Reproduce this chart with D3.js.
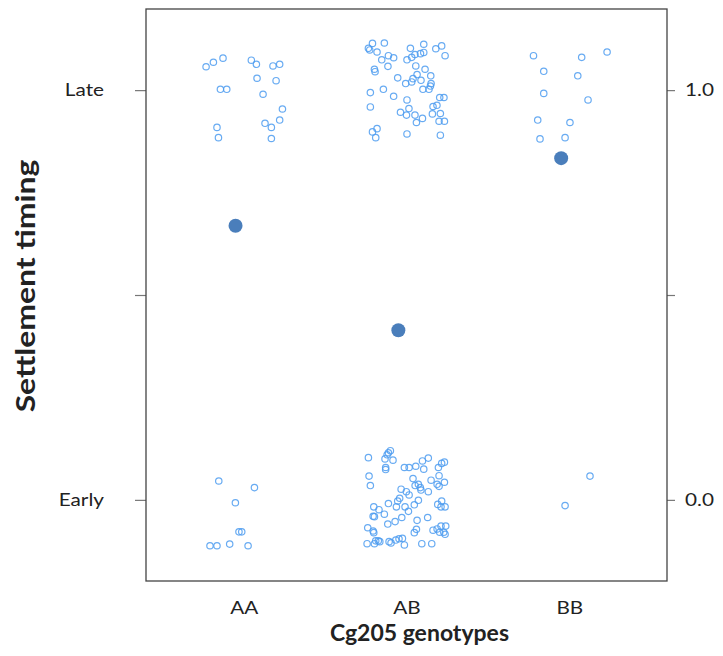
<!DOCTYPE html>
<html>
<head>
<meta charset="utf-8">
<script src="https://cdn.jsdelivr.net/npm/d3@7"></script>
<style>
  body { margin: 0; background: #fff; }
  svg { display: block; }
  text { font-family: Lato, "Open Sans", sans-serif; fill: #222; }
</style>
</head>
<body>
<div id="chart"></div>
<script>
// genotypes and group means (proportion of late settlers)
const genotypes = ['AA', 'AB', 'BB'];
const means = [0.669, 0.414, 0.834];

// jittered individual observations: [position on x, jittered value]
const aaPoints = [
  [0.769, 1.057], [0.814, 1.068], [0.873, 1.078], [1.047, 1.073], [1.078, 1.063],
  [1.180, 1.059], [1.221, 1.063], [0.857, 1.002], [0.896, 1.002], [1.082, 1.029],
  [1.199, 1.023], [1.119, 0.990], [1.238, 0.954], [1.221, 0.927], [1.131, 0.919],
  [1.170, 0.909], [0.836, 0.909], [0.845, 0.884], [1.170, 0.882],
  [0.847, 0.046], [1.066, 0.030], [0.949, -0.007], [0.971, -0.078], [0.988, -0.078],
  [0.793, -0.112], [0.836, -0.112], [0.914, -0.108], [1.027, -0.112]
];

const abPoints = [
  [1.791, 1.114], [1.864, 1.115], [2.106, 1.112], [1.766, 1.102], [1.774, 1.098],
  [1.819, 1.093], [2.024, 1.102], [2.180, 1.101], [2.216, 1.108], [2.106, 1.092],
  [2.086, 1.089], [2.052, 1.087], [2.032, 1.080], [2.003, 1.074], [1.889, 1.084],
  [1.848, 1.074], [1.921, 1.079], [2.237, 1.084], [1.886, 1.058], [2.057, 1.059],
  [2.114, 1.051], [1.803, 1.051], [1.807, 1.045], [1.946, 1.030], [2.065, 1.038],
  [2.149, 1.035], [2.040, 1.028], [2.032, 1.020], [1.995, 1.016], [2.089, 1.024],
  [2.151, 1.016], [2.147, 1.010], [2.101, 1.002], [2.138, 1.002], [1.778, 0.994],
  [1.858, 1.002], [1.921, 0.985], [2.003, 0.976], [2.204, 0.982], [2.230, 0.982],
  [1.778, 0.959], [2.163, 0.960], [2.187, 0.963], [2.015, 0.955], [1.963, 0.946],
  [2.000, 0.939], [2.052, 0.939], [2.098, 0.931], [2.159, 0.942], [2.208, 0.943],
  [2.061, 0.921], [2.200, 0.924], [2.233, 0.924], [1.791, 0.898], [1.819, 0.906],
  [1.811, 0.884], [2.003, 0.893], [2.208, 0.890],
  [1.766, 0.103], [1.901, 0.120], [1.889, 0.115], [1.881, 0.110], [1.868, 0.100],
  [1.917, 0.097], [2.098, 0.095], [2.134, 0.102], [2.216, 0.089], [2.233, 0.092],
  [1.872, 0.079], [1.872, 0.074], [1.987, 0.079], [2.016, 0.079], [2.057, 0.082],
  [2.106, 0.075], [2.196, 0.079], [2.200, 0.059], [1.770, 0.058], [1.778, 0.035],
  [2.040, 0.052], [2.151, 0.048], [2.053, 0.035], [2.073, 0.038], [2.085, 0.030],
  [2.089, 0.024], [2.134, 0.020], [2.188, 0.038], [2.200, 0.033], [2.233, 0.043],
  [1.967, 0.026], [1.999, 0.020], [2.016, 0.012], [1.958, 0.004], [1.946, -0.003],
  [1.938, -0.017], [1.889, -0.009], [1.991, -0.017], [2.073, -0.001], [2.048, -0.012],
  [2.192, -0.011], [2.216, -0.003], [2.237, -0.017], [2.212, -0.017], [1.799, -0.017],
  [1.831, -0.024], [1.864, -0.035], [1.795, -0.040], [1.803, -0.041], [2.012, -0.028],
  [1.971, -0.043], [2.065, -0.050], [2.130, -0.043], [1.930, -0.053], [1.885, -0.059],
  [1.762, -0.068], [1.795, -0.076], [1.799, -0.080], [2.061, -0.072], [2.048, -0.080],
  [2.163, -0.074], [2.188, -0.071], [2.212, -0.064], [2.241, -0.064], [2.229, -0.079],
  [2.237, -0.084], [2.204, -0.079], [1.811, -0.100], [1.827, -0.100], [1.836, -0.102],
  [1.803, -0.107], [1.758, -0.107], [1.893, -0.102], [1.905, -0.105], [1.934, -0.098],
  [1.954, -0.095], [1.975, -0.094], [1.987, -0.110], [2.094, -0.107], [2.155, -0.107]
];

const bbPoints = [
  [2.780, 1.084], [3.076, 1.080], [3.232, 1.093], [2.843, 1.046], [3.052, 1.035],
  [2.843, 0.992], [3.115, 0.976], [2.806, 0.927], [3.004, 0.921], [2.820, 0.881],
  [2.974, 0.884],
  [3.127, 0.058], [2.974, -0.014]
];

// axis ticks
const tickValues = [0, 0.5, 1];
const leftTickLabels = ['Early', '', 'Late'];
const rightTickLabels = ['0.0', '', '1.0'];

const width = 723;
const height = 656;
const margin = { top: 9, right: 56, bottom: 75, left: 146 };
const innerW = width - margin.left - margin.right;
const innerH = height - margin.top - margin.bottom;

const svg = d3
  .select('#chart')
  .append('svg')
  .attr('width', width)
  .attr('height', height);

const g = svg
  .append('g')
  .attr('transform', `translate(${margin.left},${margin.top})`);

const x = d3.scaleLinear().domain([0.4, 3.6]).range([0, innerW]);
const y = d3.scaleLinear().domain([-0.198, 1.198]).range([innerH, 0]);

// jittered raw points
const allPoints = aaPoints.concat(abPoints, bbPoints);
g.selectAll('.obs')
  .data(allPoints)
  .enter()
  .append('circle')
  .attr('class', 'obs')
  .attr('cx', (d) => x(d[0]))
  .attr('cy', (d) => y(d[1]))
  .attr('r', 3.2)
  .attr('fill', 'none')
  .attr('stroke', '#4d9cf0')
  .attr('stroke-opacity', 0.85)
  .attr('stroke-width', 1.2);

// group means
g.selectAll('.mean')
  .data(means)
  .enter()
  .append('circle')
  .attr('class', 'mean')
  .attr('cx', (d, i) => x(i + 1 - 0.05))
  .attr('cy', (d) => y(d))
  .attr('r', 7)
  .attr('fill', '#4a7ebb');

// left axis
const leftAxis = g
  .append('g')
  .call(
    d3.axisLeft(y)
      .tickValues(tickValues)
      .tickSize(11)
      .tickPadding(31)
      .tickFormat((d, i) => leftTickLabels[i])
  );

// right axis
const rightAxis = g
  .append('g')
  .attr('transform', `translate(${innerW},0)`)
  .call(
    d3.axisRight(y)
      .tickValues(tickValues)
      .tickSize(8)
      .tickPadding(10)
      .tickFormat((d, i) => rightTickLabels[i])
  );

// bottom axis labels (no tick marks)
const bottomAxis = g
  .append('g')
  .attr('transform', `translate(0,${innerH})`)
  .call(
    d3.axisBottom(x)
      .tickValues(genotypes.map((d, i) => i + 1))
      .tickSize(0)
      .tickPadding(21)
      .tickFormat((d, i) => genotypes[i])
  );

// the original labels are set in a wider face, stretch them a little
const stretch = 1.22;
[leftAxis, rightAxis, bottomAxis].forEach((ax) => {
  ax.select('.domain').remove();
  ax.selectAll('line').attr('stroke', '#777').attr('stroke-width', 1.2);
  ax.selectAll('text')
    .style('font-family', 'Lato, "Open Sans", sans-serif')
    .style('font-size', '17px')
    .attr('fill', '#222')
    .attr('x', function () { return (+d3.select(this).attr('x') || 0) / stretch; })
    .attr('transform', `scale(${stretch},1)`);
});

// frame
g.append('rect')
  .attr('x', 0)
  .attr('y', 0)
  .attr('width', innerW)
  .attr('height', innerH)
  .attr('fill', 'none')
  .attr('stroke', '#444')
  .attr('stroke-width', 1.3);

// axis titles
svg
  .append('text')
  .attr('x', margin.left + innerW / 2 + 13)
  .attr('y', 641)
  .attr('text-anchor', 'middle')
  .style('font-size', '23px')
  .style('font-weight', 'bold')
  .text('Cg205 genotypes');

svg
  .append('text')
  .attr('transform', `translate(35,286) rotate(-90) scale(1.18,1)`)
  .attr('text-anchor', 'middle')
  .style('font-size', '27px')
  .style('font-weight', 'bold')
  .text('Settlement timing');
</script>
</body>
</html>
